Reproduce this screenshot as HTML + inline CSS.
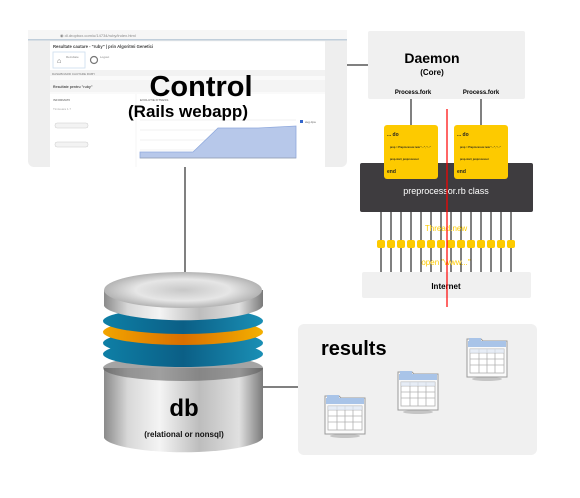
<!DOCTYPE html>
<html><head><style>
html,body{margin:0;padding:0;background:#fff;}
svg{display:block;font-family:"Liberation Sans",Arial,sans-serif;}
</style></head><body>
<svg width="580" height="498" viewBox="0 0 580 498" xmlns="http://www.w3.org/2000/svg">
<defs>
<linearGradient id="metal" x1="0" x2="1" y1="0" y2="0">
<stop offset="0" stop-color="#8a8a8a"/><stop offset="0.15" stop-color="#d8d8d8"/><stop offset="0.35" stop-color="#f4f4f4"/><stop offset="0.6" stop-color="#bdbdbd"/><stop offset="0.85" stop-color="#e0e0e0"/><stop offset="1" stop-color="#7a7a7a"/>
</linearGradient>
<radialGradient id="topg" cx="0.5" cy="0.5" r="0.6">
<stop offset="0" stop-color="#c8c8c8"/><stop offset="0.5" stop-color="#e6e6e6"/><stop offset="1" stop-color="#9a9a9a"/>
</radialGradient>
<linearGradient id="blue" x1="0" x2="1"><stop offset="0" stop-color="#0e7fa6"/><stop offset="0.5" stop-color="#0b5f86"/><stop offset="1" stop-color="#1a8fb5"/></linearGradient>
<linearGradient id="orng" x1="0" x2="1"><stop offset="0" stop-color="#f2a500"/><stop offset="0.5" stop-color="#d96f00"/><stop offset="1" stop-color="#f4b000"/></linearGradient>
<g id="tbl">
<ellipse cx="20" cy="42" rx="15" ry="2" fill="#999" opacity="0.5"/>
<path d="M0 2 H14 L16 4 H40 V40 H0 Z" fill="#fafafa" stroke="#9a9a9a" stroke-width="1"/>
<rect x="1" y="4" width="38" height="6" fill="#a9c4e8"/>
<rect x="2" y="1" width="12" height="4" fill="#a9c4e8"/>
<g stroke="#b0b0b0" stroke-width="0.8" fill="none">
<rect x="3" y="12" width="34" height="24" fill="#fff"/>
<line x1="3" y1="16" x2="37" y2="16"/><line x1="3" y1="22" x2="37" y2="22"/><line x1="3" y1="28" x2="37" y2="28"/>
<line x1="12" y1="12" x2="12" y2="36"/><line x1="20" y1="12" x2="20" y2="36"/><line x1="28" y1="12" x2="28" y2="36"/>
</g>
<rect x="3" y="12" width="34" height="4" fill="#dde6f2" opacity="0.7"/>
</g>
</defs>

<!-- screenshot -->
<rect x="28" y="30" width="319" height="137" rx="6" fill="#eeeeee"/>
<rect x="28" y="30" width="319" height="9" fill="#f6f6f6"/>
<rect x="28" y="39" width="319" height="1.5" fill="#c0cedb"/>
<text x="60" y="37" font-size="4" fill="#888">◉ dl.dropbox.com/u/14734/ruby/index.html</text>
<rect x="50" y="41" width="275" height="126" fill="#fafafa"/>
<rect x="50" y="42" width="275" height="28" fill="#fff"/>
<text x="53" y="48" font-size="4.2" font-weight="bold" fill="#444">Resultate cautare - "ruby" | prin Algoritmi Genetici</text>
<rect x="53" y="52" width="32" height="16" fill="#fff" stroke="#cde" stroke-width="0.8"/>
<text x="57" y="63" font-size="7" fill="#555">⌂</text>
<text x="66" y="58" font-size="3" fill="#888">Rezultate</text>
<circle cx="94" cy="60" r="3.5" fill="none" stroke="#777" stroke-width="1.2"/>
<text x="100" y="58" font-size="3" fill="#888">Logout</text>
<rect x="50" y="70" width="275" height="6" fill="#f2f2f2"/>
<text x="52" y="75" font-size="3" fill="#777">DASHBOARD CAUTARE RUBY</text>
<rect x="50" y="80" width="275" height="12" fill="#f4f4f4"/>
<text x="53" y="88" font-size="3.5" font-weight="bold" fill="#555">Resultate pentru "ruby"</text>
<rect x="50" y="94" width="85" height="73" fill="#fff"/>
<text x="53" y="101" font-size="3" fill="#555">INFORMATII</text>
<text x="53" y="110" font-size="3" fill="#aaa">Timisoara 1.7</text>
<rect x="55" y="123" width="33" height="5" rx="2" fill="#f3f3f3" stroke="#ccc" stroke-width="0.5"/>
<rect x="55" y="142" width="33" height="5" rx="2" fill="#f3f3f3" stroke="#ccc" stroke-width="0.5"/>
<rect x="137" y="94" width="188" height="73" fill="#fff"/>
<text x="140" y="101" font-size="3" fill="#555">EVOLUTIE FITNESS</text>
<g stroke="#e4e4e4" stroke-width="0.5"><line x1="140" y1="120" x2="296" y2="120"/><line x1="140" y1="130" x2="296" y2="130"/><line x1="140" y1="140" x2="296" y2="140"/><line x1="140" y1="150" x2="296" y2="150"/></g>
<polygon points="140,152 193,152 218,128 258,128 296,126 296,158 140,158" fill="#b7c8ea" stroke="#8fa9dd" stroke-width="0.8"/>
<line x1="140" y1="158" x2="296" y2="158" stroke="#999" stroke-width="0.5"/>
<rect x="300" y="120" width="3" height="3" fill="#3366cc"/>
<text x="305" y="123" font-size="3" fill="#666">avg dpa</text>
<text x="201" y="96" font-size="29" font-weight="bold" text-anchor="middle" fill="#000">Control</text>
<text x="188" y="117" font-size="17" font-weight="bold" text-anchor="middle" fill="#000">(Rails webapp)</text>

<!-- connectors -->
<line x1="185" y1="167" x2="185" y2="272" stroke="#000" stroke-width="1"/>
<line x1="347" y1="65" x2="368" y2="65" stroke="#000" stroke-width="1"/>
<line x1="263" y1="387" x2="298" y2="387" stroke="#000" stroke-width="1"/>

<!-- daemon -->
<rect x="368" y="31" width="157" height="68" rx="2" fill="#f0f0f0"/>
<text x="432" y="63" font-size="14" font-weight="bold" text-anchor="middle">Daemon</text>
<text x="432" y="75" font-size="8" font-weight="bold" text-anchor="middle">(Core)</text>
<text x="413" y="94" font-size="6" font-weight="bold" text-anchor="middle">Process.fork</text>
<text x="481" y="94" font-size="6" font-weight="bold" text-anchor="middle">Process.fork</text>
<line x1="411" y1="99" x2="411" y2="125" stroke="#000"/>
<line x1="481" y1="99" x2="481" y2="125" stroke="#000"/>

<rect x="360" y="163" width="173" height="49" rx="2" fill="#3e3c3f"/>
<text x="446" y="194" font-size="9" text-anchor="middle" fill="#fff">preprocessor.rb class</text>
<g font-size="5" font-weight="bold" fill="#222">
<rect x="384" y="125" width="54" height="54" rx="3" fill="#fdca00"/>
<text x="387" y="136">... do</text>
<text x="390" y="148" font-size="2.5">prep = Preprocessor.new "...", "..."</text>
<text x="390" y="160" font-size="2.5">prep.start_preprocessor</text>
<text x="387" y="173">end</text>
<rect x="454" y="125" width="54" height="54" rx="3" fill="#fdca00"/>
<text x="457" y="136">... do</text>
<text x="460" y="148" font-size="2.5">prep = Preprocessor.new "...", "..."</text>
<text x="460" y="160" font-size="2.5">prep.start_preprocessor</text>
<text x="457" y="173">end</text>
</g>

<g stroke="#000" stroke-width="1">
<line x1="381" y1="212" x2="381" y2="272"/><line x1="391" y1="212" x2="391" y2="272"/><line x1="401" y1="212" x2="401" y2="272"/><line x1="411" y1="212" x2="411" y2="272"/><line x1="421" y1="212" x2="421" y2="272"/><line x1="431" y1="212" x2="431" y2="272"/><line x1="441" y1="212" x2="441" y2="272"/><line x1="451" y1="212" x2="451" y2="272"/><line x1="461" y1="212" x2="461" y2="272"/><line x1="471" y1="212" x2="471" y2="272"/><line x1="481" y1="212" x2="481" y2="272"/><line x1="491" y1="212" x2="491" y2="272"/><line x1="501" y1="212" x2="501" y2="272"/><line x1="511" y1="212" x2="511" y2="272"/>
</g>
<g fill="#fdca00">
<rect x="377" y="240" width="8" height="8" rx="2"/><rect x="387" y="240" width="8" height="8" rx="2"/><rect x="397" y="240" width="8" height="8" rx="2"/><rect x="407" y="240" width="8" height="8" rx="2"/><rect x="417" y="240" width="8" height="8" rx="2"/><rect x="427" y="240" width="8" height="8" rx="2"/><rect x="437" y="240" width="8" height="8" rx="2"/><rect x="447" y="240" width="8" height="8" rx="2"/><rect x="457" y="240" width="8" height="8" rx="2"/><rect x="467" y="240" width="8" height="8" rx="2"/><rect x="477" y="240" width="8" height="8" rx="2"/><rect x="487" y="240" width="8" height="8" rx="2"/><rect x="497" y="240" width="8" height="8" rx="2"/><rect x="507" y="240" width="8" height="8" rx="2"/>
</g>
<text x="446" y="231" font-size="8" text-anchor="middle" fill="#fdca00">Thread.new</text>
<text x="446" y="265" font-size="8" text-anchor="middle" fill="#fdca00">open "www..."</text>
<rect x="362" y="272" width="169" height="26" rx="2" fill="#f0f0f0"/>
<text x="446" y="289" font-size="8" font-weight="bold" text-anchor="middle">Internet</text>
<line x1="447" y1="109" x2="447" y2="307" stroke="#ff0000" stroke-width="1.2"/>

<!-- db -->
<path d="M104 368 V438 A80 16 0 0 0 263 438 V368 Z" fill="url(#metal)"/>
<ellipse cx="183" cy="368" rx="80" ry="13" fill="#5a5a5a" opacity="0.55"/>
<ellipse cx="183" cy="354" rx="80" ry="13" fill="url(#blue)"/>
<ellipse cx="183" cy="343" rx="80" ry="13" fill="url(#blue)"/>
<ellipse cx="183" cy="332" rx="80" ry="13" fill="url(#orng)"/>
<ellipse cx="183" cy="321" rx="80" ry="13" fill="url(#blue)"/>
<path d="M104 290 V306 A80 16 0 0 0 263 306 V290 Z" fill="url(#metal)"/>
<ellipse cx="183" cy="290" rx="79" ry="18" fill="url(#topg)"/>
<text x="184" y="416" font-size="24" font-weight="bold" text-anchor="middle">db</text>
<text x="184" y="437" font-size="8" font-weight="bold" text-anchor="middle" fill="#111">(relational or nonsql)</text>

<!-- results -->
<rect x="298" y="324" width="239" height="131" rx="6" fill="#f0f0f0"/>
<text x="321" y="355" font-size="20" font-weight="bold">results</text>
<use href="#tbl" x="325" y="394"/>
<use href="#tbl" x="398" y="370"/>
<use href="#tbl" x="467" y="337"/>
</svg>
</body></html>
